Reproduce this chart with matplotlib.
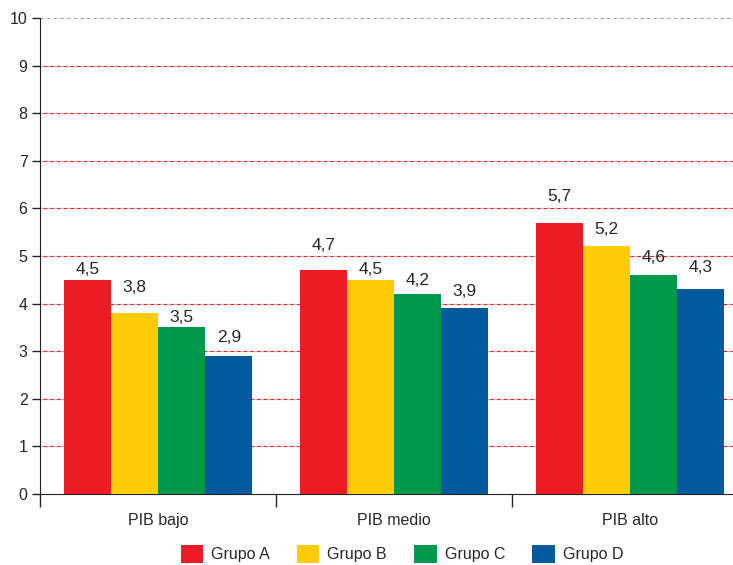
import numpy as np
import matplotlib
matplotlib.use("Agg")
from matplotlib import pyplot as plt
from matplotlib.patches import Patch

plt.rcParams['font.family'] = ['Liberation Sans', 'DejaVu Sans']

categories = ["PIB bajo", "PIB medio", "PIB alto"]
groups = ["Grupo A", "Grupo B", "Grupo C", "Grupo D"]
grupo_a = [4.5, 4.7, 5.7]
grupo_b = [3.8, 4.5, 5.2]
grupo_c = [3.5, 4.2, 4.6]
grupo_d = [2.9, 3.9, 4.3]
colors = ["#ED1C24", "#FFCB05", "#00984A", "#005A9C"]

# label lift above each bar (pixels), per group / category
label_lift = [[10, 25, 26], [26, 10, 17], [10, 14, 18], [18, 17, 22]]

fig = plt.figure(figsize=(7.33, 5.65), dpi=100)
ax = fig.add_axes([40/733, 71/565, 708/733, 476/565])

series = [grupo_a, grupo_b, grupo_c, grupo_d]
x = np.arange(len(categories))
w = 0.2
txt = "#262626"

for i, vals in enumerate(series):
    pos = x + (i - 1.5) * w
    ax.bar(pos, vals, w, color=colors[i], zorder=3)
    for j, v in enumerate(vals):
        ax.annotate(f"{v:.1f}".replace(".", ","), (pos[j], v),
                    xytext=(0, label_lift[i][j]), textcoords="offset pixels",
                    ha="center", va="center", fontsize=12.5, color=txt)

ax.set_ylim(0, 10)
ax.set_xlim(-0.5, 2.5)
ax.set_yticks(range(0, 11))
for y in range(1, 10):
    ax.axhline(y, color="#ED1C24", lw=0.8, zorder=1)
    ax.axhline(y, color="#bbbbbb", lw=0.8, ls=(0, (3, 3)), zorder=1.5)
ax.axhline(10, color="#999999", lw=0.8, ls=(0, (3, 3)), zorder=1)

ax.set_xticks([-0.5, 0.5, 1.5, 2.5])
ax.set_xticklabels([])
ax.set_xticks(x, minor=True)
ax.set_xticklabels(categories, minor=True)
ax.tick_params(axis="x", which="major", length=9, width=1, color="#222222", direction="out")
ax.tick_params(axis="x", which="minor", length=0, pad=14, labelsize=11.5, labelcolor=txt)
ax.tick_params(axis="y", length=6, width=1, color="#222222", labelsize=11.5, labelcolor=txt, pad=3)

for s in ["top", "right"]:
    ax.spines[s].set_visible(False)
ax.spines["left"].set_color("#222222")
ax.spines["bottom"].set_color("#222222")

handles = [Patch(facecolor=c, edgecolor="none") for c in colors]
fig.legend(handles, groups, loc="center", bbox_to_anchor=(402/733, 1 - 554/565),
           ncol=4, frameon=False, fontsize=11.5, handlelength=1.4, handleheight=1.4,
           columnspacing=1.7, handletextpad=0.5, labelcolor=txt)

fig.savefig("out.png", dpi=100)
